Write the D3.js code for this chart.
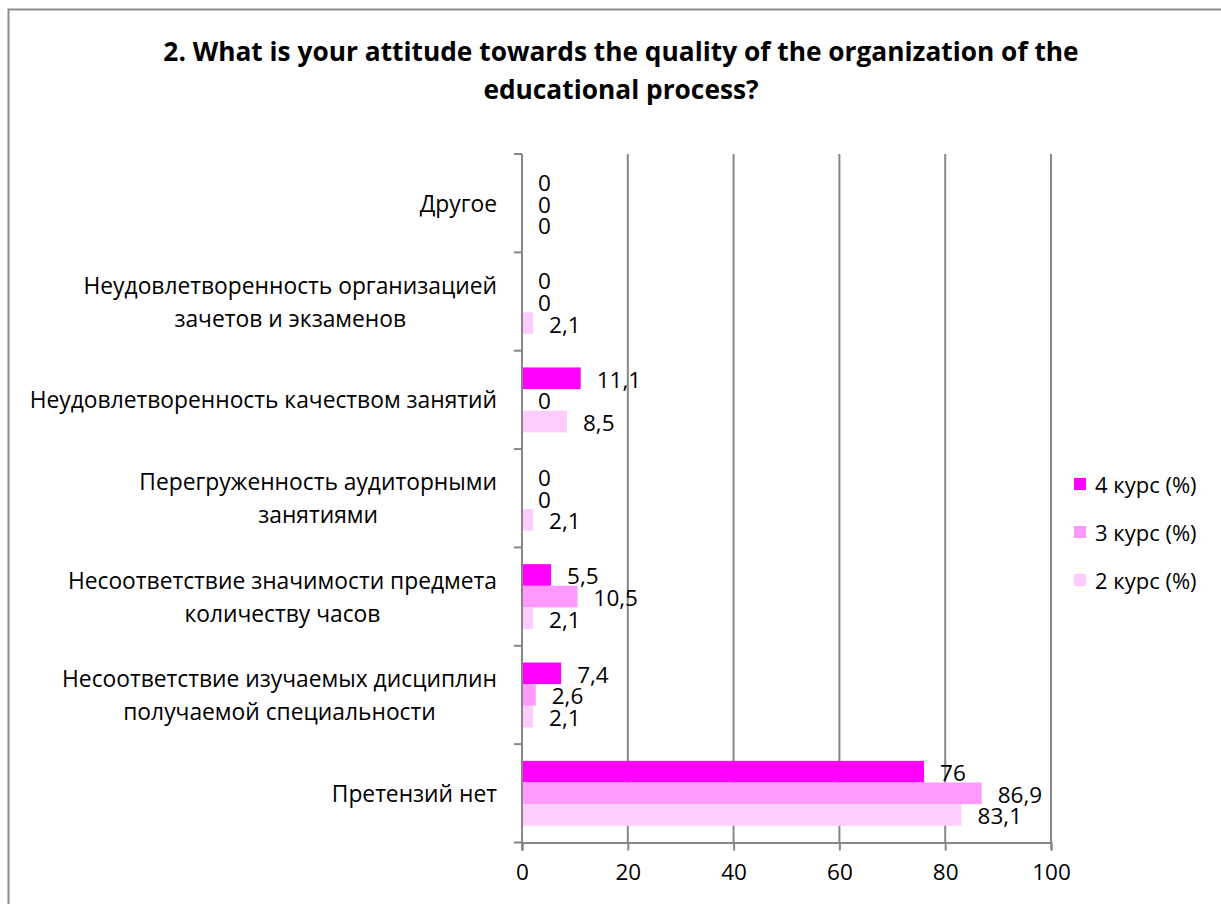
<!DOCTYPE html>
<html>
<head>
<meta charset="utf-8">
<script src="https://cdn.jsdelivr.net/npm/d3@7"></script>
<style>
  html, body { margin: 0; padding: 0; background: #fff; }
  svg { display: block; }
  text { font-family: "Open Sans", "Noto Sans", sans-serif; fill: #000; }
</style>
</head>
<body>
<svg id="chart" width="1221" height="904"></svg>
<script>
// Survey answers, one entry per category (top to bottom)
const categories = [
  "Другое",
  "Неудовлетворенность организацией зачетов и экзаменов",
  "Неудовлетворенность качеством занятий",
  "Перегруженность аудиторными занятиями",
  "Несоответствие значимости предмета количеству часов",
  "Несоответствие изучаемых дисциплин получаемой специальности",
  "Претензий нет"
];
// How each category label is broken into lines
const categoryLines = [
  ["Другое"],
  ["Неудовлетворенность организацией", "зачетов и экзаменов"],
  ["Неудовлетворенность качеством занятий"],
  ["Перегруженность аудиторными", "занятиями"],
  ["Несоответствие значимости предмета", "количеству часов"],
  ["Несоответствие изучаемых дисциплин", "получаемой специальности"],
  ["Претензий нет"]
];
const seriesNames = ["4 курс (%)", "3 курс (%)", "2 курс (%)"];
const course4 = [0, 0, 11.1, 0, 5.5, 7.4, 76];
const course3 = [0, 0, 0, 0, 10.5, 2.6, 86.9];
const course2 = [0, 2.1, 8.5, 2.1, 2.1, 2.1, 83.1];
const seriesColors = ["#ff00ff", "#ff99ff", "#ffccff"];
const xTicks = [0, 20, 40, 60, 80, 100];
const titleLines = [
  "2. What is your attitude towards the quality of the organization of the",
  "educational process?"
];

const seriesValues = [course4, course3, course2];
const rows = categories.map((c, i) => ({
  category: c,
  lines: categoryLines[i],
  values: seriesValues.map((s, k) => ({ key: seriesNames[k], value: s[i], color: seriesColors[k] }))
}));

const svg = d3.select("#chart");
const plot = { left: 522, right: 1051, top: 154, bottom: 842.5 };
const gridColor = "#878787";

// Outer frame
svg.append("rect")
  .attr("x", 8.5).attr("y", 9.5)
  .attr("width", 1300).attr("height", 1000)
  .attr("fill", "none").attr("stroke", "#8c8c8c").attr("stroke-width", 2);

// Title
svg.append("g").selectAll("text")
  .data(titleLines)
  .join("text")
  .attr("x", 621).attr("y", (d, i) => 61 + i * 38)
  .attr("text-anchor", "middle")
  .attr("font-size", 26.3).attr("font-weight", 700)
  .text(d => d);

const x = d3.scaleLinear().domain([0, 100]).range([plot.left, plot.right]);
const y = d3.scaleBand().domain(categories).range([plot.top, plot.bottom]);
const inner = d3.scaleBand().domain(seriesNames)
  .range([y.bandwidth() * 0.17, y.bandwidth() * 0.83]);

// Vertical gridlines
svg.append("g").selectAll("line")
  .data(xTicks.filter(t => t > 0))
  .join("line")
  .attr("x1", d => x(d)).attr("x2", d => x(d))
  .attr("y1", plot.top).attr("y2", plot.bottom)
  .attr("stroke", gridColor).attr("stroke-width", 2);

// Bars
const groups = svg.append("g").selectAll("g")
  .data(rows)
  .join("g")
  .attr("transform", d => `translate(0,${y(d.category)})`);

groups.selectAll("rect")
  .data(d => d.values)
  .join("rect")
  .attr("x", x(0))
  .attr("y", d => inner(d.key))
  .attr("width", d => x(d.value) - x(0))
  .attr("height", inner.bandwidth())
  .attr("fill", d => d.color);

// Value labels
groups.selectAll("text")
  .data(d => d.values)
  .join("text")
  .attr("x", d => x(d.value) + 16)
  .attr("y", d => inner(d.key) + inner.bandwidth() / 2 + 1)
  .attr("dominant-baseline", "central")
  .attr("font-size", 22.5)
  .text(d => String(d.value).replace(".", ","));

// Bottom axis
const xAxis = svg.append("g")
  .attr("transform", `translate(0,${plot.bottom})`)
  .call(d3.axisBottom(x).tickValues(xTicks).tickSize(8).tickPadding(14).tickFormat(d3.format("d")));
xAxis.select(".domain").attr("stroke", gridColor).attr("stroke-width", 2);
xAxis.selectAll(".tick line").attr("stroke", gridColor).attr("stroke-width", 2);
xAxis.selectAll(".tick text").attr("font-size", 22.5).attr("font-family", "Open Sans").attr("fill", "#000");

// Left axis with tick marks at the category boundaries
const yAxisG = svg.append("g");
yAxisG.append("line")
  .attr("x1", plot.left).attr("x2", plot.left)
  .attr("y1", plot.top).attr("y2", plot.bottom + 8)
  .attr("stroke", gridColor).attr("stroke-width", 2);
const boundaries = categories.map(c => y(c)).concat([plot.bottom]);
yAxisG.selectAll("line.tick")
  .data(boundaries)
  .join("line").attr("class", "tick")
  .attr("x1", plot.left - 8).attr("x2", plot.left)
  .attr("y1", d => d).attr("y2", d => d)
  .attr("stroke", gridColor).attr("stroke-width", 2);

// Category labels, right-aligned as a block, lines centred on each other
const labelRight = 497;
const lineGap = 33;
rows.forEach(r => {
  const g = svg.append("g");
  const cy = y(r.category) + y.bandwidth() / 2;
  const texts = g.selectAll("text")
    .data(r.lines)
    .join("text")
    .attr("y", (d, i) => cy + (i - (r.lines.length - 1) / 2) * lineGap)
    .attr("dominant-baseline", "central")
    .attr("text-anchor", "middle")
    .attr("font-size", 22.8)
    .text(d => d);
  let maxW = 0;
  texts.each(function () { maxW = Math.max(maxW, this.getComputedTextLength()); });
  texts.attr("x", labelRight - maxW / 2);
});

// Legend
const legend = svg.append("g").attr("transform", "translate(1074,484)");
const li = legend.selectAll("g")
  .data(seriesNames.map((n, k) => ({ name: n, color: seriesColors[k] })))
  .join("g")
  .attr("transform", (d, i) => `translate(0,${i * 48})`);
li.append("rect").attr("x", 0).attr("y", -6).attr("width", 12).attr("height", 12).attr("fill", d => d.color);
li.append("text").attr("x", 21).attr("y", 0).attr("dominant-baseline", "central")
  .attr("font-size", 22).text(d => d.name);
</script>
</body>
</html>
